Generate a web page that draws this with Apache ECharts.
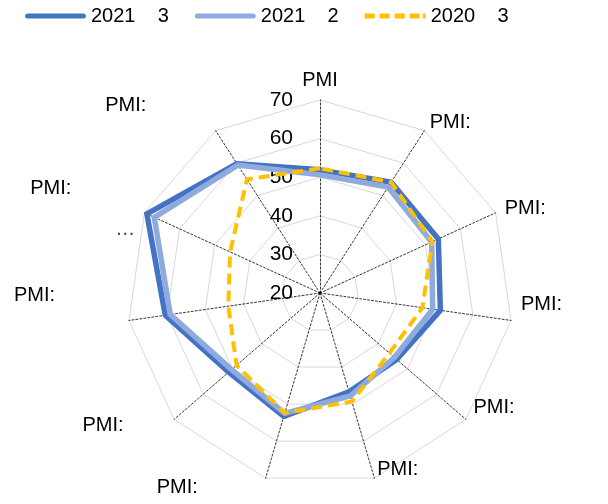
<!DOCTYPE html>
<html>
<head>
<meta charset="utf-8">
<script src="https://cdn.jsdelivr.net/npm/echarts@6/dist/echarts.min.js"></script>
<style>
html,body{margin:0;padding:0;background:#fff;}
#c{width:608px;height:504px;}
</style>
</head>
<body>
<div id="c"></div>
<script>
// Axis names, clockwise from the top
const indicatorNames = ['PMI', 'PMI:', 'PMI:', 'PMI:', 'PMI:', 'PMI:', 'PMI:', 'PMI:', 'PMI:', 'PMI:\n\u2026', 'PMI:'];
const seriesNames = ['2021    3', '2021    2', '2020    3'];
// Values, clockwise from the top
const mar2021 = [51.9, 54.1, 53.7, 51.5, 46.3, 46.7, 53.3, 51.3, 60.5, 69.3, 59.8];
const feb2021 = [50.6, 52.6, 51.8, 49.5, 45.5, 47.8, 52.5, 50.3, 59.2, 67.2, 59.4];
const mar2020 = [52.3, 54.1, 52.0, 46.8, 43.8, 49.3, 52.4, 48.6, 44.0, 45.6, 55.0];
const axisMin = 20;
const axisMax = 70;
const axisSplits = 5;

const colors = ['#4472C4', '#8FAADC', '#FFC000'];
const FONT = 'Liberation Sans, Arial, sans-serif';

// per-label offsets [top, right, bottom, left] (mimic the reference's label placement)
const namePad = [
  [0,0,0,0], [0,0,0,0], [0,0,0,0], [0,0,34,0], [0,0,36,0], [0,0,36,0],
  [0,65,0,0], [0,43,0,0], [0,64,52,0], [0,64,21,0], [0,64,33,0]
];

// ECharts lays indicators out counter-clockwise: reorder (top, then reverse)
const order = [0];
for (let i = indicatorNames.length - 1; i >= 1; i--) order.push(i);
const reorder = arr => order.map(i => arr[i]);

const rich = { d: { fontSize: 20, color: '#404040', fontFamily: FONT } };
indicatorNames.forEach((n, i) => {
  rich['n' + i] = { fontSize: 20, color: '#000', fontFamily: FONT, padding: namePad[i] };
});

const indicators = order.map((i, j) => {
  const o = { name: indicatorNames[i], min: axisMin, max: axisMax, k: i };
  if (j === 0) {
    o.axisLabel = { show: true, fontSize: 21, color: '#000', fontFamily: FONT, margin: 27 };
  }
  return o;
});

const values = [mar2021, feb2021, mar2020];
const chart = echarts.init(document.getElementById('c'), null, { renderer: 'canvas' });
chart.setOption({
  backgroundColor: '#fff',
  animation: false,
  legend: {
    left: 20,
    top: 1,
    itemWidth: 61,
    itemHeight: 5,
    itemGap: 26,
    symbolKeepAspect: false,
    textStyle: { fontSize: 20, color: '#000', fontFamily: FONT },
    data: [
      { name: seriesNames[0], icon: 'path://M2,0h57a2,2 0 0 1 0,5h-57a2,2 0 0 1 0,-5z', itemStyle: { color: colors[0], borderWidth: 0 } },
      { name: seriesNames[1], icon: 'path://M2,0h57a2,2 0 0 1 0,5h-57a2,2 0 0 1 0,-5z', itemStyle: { color: colors[1], borderWidth: 0 } },
      { name: seriesNames[2], icon: 'path://M0,0h10v5h-10z M15,0h10v5h-10z M30,0h10v5h-10z M45,0h10v5h-10z M58,0h3v5h-3z', itemStyle: { color: colors[2], borderWidth: 0 } }
    ]
  },
  radar: {
    center: [320, 293],
    radius: 193,
    startAngle: 90,
    splitNumber: axisSplits,
    shape: 'polygon',
    indicator: indicators,
    axisName: {
      color: '#000',
      fontSize: 20,
      fontFamily: FONT,
      rich: rich,
      formatter: function (name, ind) {
        const parts = String(name).split('\n');
        let s = '{n' + ind.k + '|' + parts[0] + '}';
        if (parts.length > 1) s += '\n{d|' + parts[1] + '}';
        return s;
      }
    },
    nameGap: 10,
    axisLine: { show: true, lineStyle: { color: '#000', width: 0.8, type: [2, 2] } },
    splitLine: { show: true, lineStyle: { color: '#D9D9D9', width: 1 } },
    splitArea: { show: false },
    axisTick: { show: false },
    axisLabel: { show: false }
  },
  series: [{
    type: 'radar',
    symbol: 'none',
    data: values.map((v, i) => ({
      name: seriesNames[i],
      value: reorder(v),
      itemStyle: { color: colors[i] },
      lineStyle: i === 2
        ? { color: colors[i], width: 4, type: [11, 6], cap: 'butt', join: 'round' }
        : { color: colors[i], width: 5.5, join: 'round' }
    }))
  }]
});
</script>
</body>
</html>
